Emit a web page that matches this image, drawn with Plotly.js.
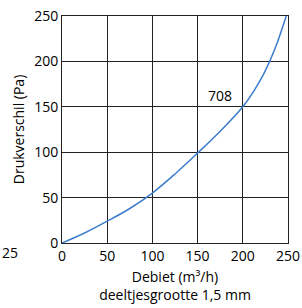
<!DOCTYPE html>
<html><head><meta charset="utf-8">
<script src="https://cdn.plot.ly/plotly-3.0.1.min.js"></script>
<style>html,body{margin:0;padding:0;background:#fff}</style>
</head><body><div id="c" style="width:302px;height:308px"></div>
<script>
const debiet = [0, 25, 50, 75, 100, 125, 150, 175, 200, 212, 224, 236, 248];
const druk   = [0, 11, 24, 38, 55, 76, 99, 123, 150, 167, 188, 215, 250];
const tickVals = [0, 50, 100, 150, 200, 250];
const curveLabel = "708";
const xTitle = "Debiet (m³/h)<br>deeltjesgrootte 1,5 mm";
const yTitle = "Drukverschil (Pa)";
const strayLabel = "25";

const font = {family: "Open Sans, Noto Sans, sans-serif", size: 14, color: "#000"};
const axisCommon = {
  range: [0, 250], tickvals: tickVals, showgrid: true, gridcolor: "#222", gridwidth: 1,
  zeroline: false, showline: true, linecolor: "#222", linewidth: 1, mirror: true,
  ticks: "", tickfont: font, fixedrange: true
};
Plotly.newPlot("c", [{
  x: debiet, y: druk, type: "scatter", mode: "lines",
  line: {color: "#3b7dcc", width: 1.5, shape: "spline", smoothing: 1}, hoverinfo: "skip"
}], {
  width: 302, height: 308,
  margin: {l: 62, r: 14, t: 16, b: 65},
  paper_bgcolor: "#fff", plot_bgcolor: "#fff",
  font: font, showlegend: false,
  xaxis: Object.assign({}, axisCommon, {title: {text: xTitle, font: font, standoff: 8}}),
  yaxis: Object.assign({}, axisCommon, {title: {text: yTitle, font: font, standoff: 6}}),
  annotations: [
    {x: 175, y: 162, xref: "x", yref: "y", text: curveLabel, showarrow: false, font: font},
    {x: -0.272, y: -0.044, xref: "paper", yref: "paper", text: strayLabel, showarrow: false, font: font,
     xanchor: "left", yanchor: "middle", borderpad: 0}
  ]
}, {staticPlot: true});
</script></body></html>
